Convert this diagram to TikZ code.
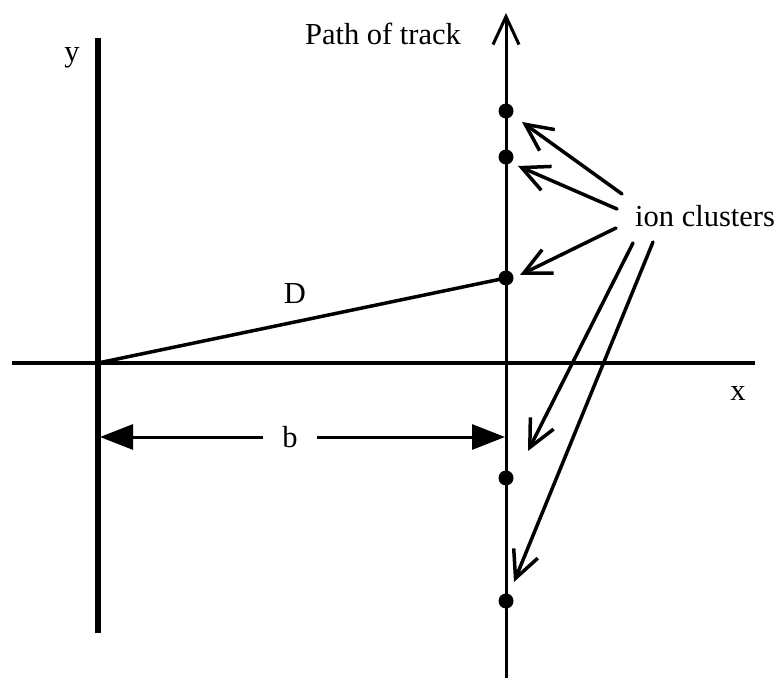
\documentclass[tikz,border=0pt]{standalone}
\usepackage{fontspec}
\setmainfont{Liberation Serif}
\usetikzlibrary{arrows.meta}
\begin{document}
\begin{tikzpicture}[x=1pt,y=-1pt,
  lbl/.style={font=\fontsize{30.5}{36}\selectfont, inner sep=0pt},
  dotnode/.style={circle, fill=black, inner sep=0pt, minimum size=15pt},
  yaxis/.style={line width=6pt},
  xaxis/.style={line width=4.5pt},
  trackline/.style={line width=3pt, -{Straight Barb[length=28pt,width=26pt]}},
  dline/.style={line width=3.5pt},
  barrow/.style={line width=3pt, -{Triangle[length=33pt,width=25pt]}},
  ionarrow/.style={line width=3.5pt, line cap=round, -{Straight Barb[length=27pt,width=26pt]}}
]
\useasboundingbox (0,0) rectangle (780,679);

% coordinates
\coordinate (ytop) at (98,38);
\coordinate (ybot) at (98,633);
\coordinate (xl) at (12,363);
\coordinate (xr) at (755,363);
\coordinate (O) at (98,363);
\coordinate (ttop) at (506,13);
\coordinate (tbot) at (506,678);
\coordinate (bl) at (100,437);
\coordinate (br) at (505,437);

% axes
\draw[yaxis] (ytop) -- (ybot);
\draw[xaxis] (xl) -- (xr);
\draw[trackline] (tbot) -- (ttop);

% dots
\node[dotnode] (d1) at (506,111) {};
\node[dotnode] (d2) at (506,157) {};
\node[dotnode] (d3) at (506,278) {};
\node[dotnode] (d4) at (506,478) {};
\node[dotnode] (d5) at (506,601) {};

% D line
\draw[dline] (O) -- (d3.center);

% labels
\node[lbl, anchor=base] (ylab) at (72,62) {y};
\node[lbl, anchor=base] (xlab) at (738,400) {x};
\node[lbl, anchor=base] (Dlab) at (295,304) {D};
\node[lbl, anchor=base] (plab) at (383,45) {Path of track};
\node[lbl, anchor=base west] (ilab) at (635,227) {ion clusters};

% b dimension
\node[lbl, minimum width=54pt] (b) at (290,437) {b};
\draw[barrow] (b.west) -- (bl);
\draw[barrow] (b.east) -- (br);

% ion cluster arrows
\coordinate (s1) at (622,194); \coordinate (t1) at (522,122);
\coordinate (s2) at (617,209); \coordinate (t2) at (518,166);
\coordinate (s3) at (616,228); \coordinate (t3) at (520,275);
\coordinate (s4) at (633,243); \coordinate (t4) at (528,451);
\coordinate (s5) at (653,242); \coordinate (t5) at (514,582);
\draw[ionarrow] (s1) -- (t1);
\draw[ionarrow] (s2) -- (t2);
\draw[ionarrow] (s3) -- (t3);
\draw[ionarrow] (s4) -- (t4);
\draw[ionarrow] (s5) -- (t5);
\end{tikzpicture}
\end{document}
